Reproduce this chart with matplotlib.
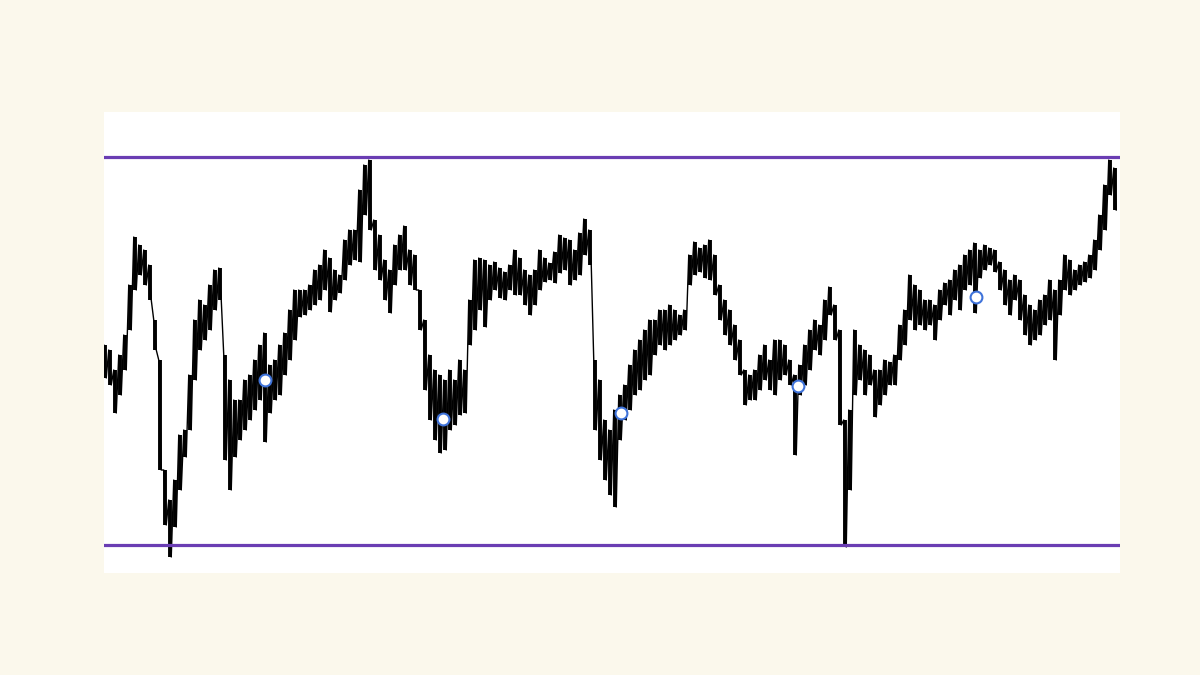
import numpy as np
import matplotlib
matplotlib.use("Agg")
import matplotlib.pyplot as plt

# bar highs / lows (price units above the support level), one bar per step
highs = [200, 195, 175, 190, 210, 260, 308, 300, 295, 280, 225, 185, 75, 45, 65, 110, 115, 170, 225, 245,
         240, 260, 275, 277, 190, 165, 145, 145, 165, 170, 185, 200, 212, 180, 185, 200, 212, 235, 255, 255,
         255, 260, 275, 280, 295, 287, 275, 270, 305, 315, 315, 355, 380, 385, 325, 310, 285, 275, 300, 310,
         319, 295, 290, 255, 225, 190, 175, 170, 165, 175, 165, 185, 175, 245, 285, 287, 285, 280, 283, 277,
         273, 280, 295, 287, 275, 270, 275, 295, 287, 282, 293, 310, 307, 305, 295, 312, 326, 315, 185, 165,
         125, 115, 135, 150, 160, 180, 195, 205, 215, 225, 225, 235, 235, 240, 235, 230, 235, 290, 303, 297,
         300, 305, 290, 260, 245, 235, 220, 205, 175, 170, 175, 190, 200, 185, 205, 205, 200, 185, 170, 180,
         200, 215, 225, 220, 245, 258, 240, 215, 125, 135, 215, 200, 195, 190, 175, 175, 185, 183, 190, 220,
         235, 270, 260, 255, 245, 245, 240, 255, 262, 265, 275, 280, 290, 295, 302, 295, 300, 297, 295, 283,
         275, 265, 270, 265, 250, 240, 235, 245, 250, 265, 255, 265, 290, 285, 275, 280, 283, 290, 305, 330,
         360, 385, 377]
lows = [167, 160, 132, 150, 175, 215, 255, 270, 260, 245, 195, 75, 20, -12, 18, 55, 88, 115, 165, 195,
        205, 215, 235, 245, 85, 55, 88, 105, 115, 125, 135, 145, 103, 132, 145, 150, 170, 185, 205, 228,
        230, 235, 240, 245, 255, 233, 245, 252, 265, 280, 285, 283, 330, 315, 275, 265, 245, 232, 260, 275,
        275, 260, 255, 215, 155, 125, 105, 92, 95, 115, 120, 130, 132, 200, 215, 235, 218, 245, 255, 247,
        245, 255, 250, 250, 240, 230, 240, 255, 263, 265, 262, 272, 275, 260, 265, 270, 290, 280, 115, 85,
        65, 50, 38, 105, 125, 135, 150, 155, 165, 170, 190, 200, 195, 200, 205, 210, 215, 260, 270, 273,
        267, 265, 250, 225, 210, 200, 185, 170, 140, 145, 145, 155, 165, 155, 150, 165, 170, 160, 90, 150,
        160, 175, 195, 190, 205, 230, 205, 120, -2, 55, 150, 165, 150, 160, 128, 140, 150, 160, 160, 185,
        200, 225, 215, 220, 215, 220, 205, 225, 240, 230, 245, 235, 255, 260, 232, 267, 275, 280, 273, 255,
        240, 230, 245, 225, 210, 200, 205, 210, 220, 225, 185, 230, 255, 250, 255, 260, 263, 267, 275, 295,
        315, 350, 335]

support = 0
resistance = 388

# touch points marked along the swing
marker_bars = [32, 67.6, 103.2, 138.6, 174.2]
marker_values = [165, 126, 132, 159, 248]

bars = np.arange(len(highs))
highs = np.array(highs)
lows = np.array(lows)

fig = plt.figure(figsize=(12, 6.75), dpi=100, facecolor="#fbf8ec")
ax = fig.add_axes([104 / 1200, 102 / 675, 1016 / 1200, 461 / 675])
ax.set_facecolor("white")

ax.axhline(resistance, color="#6a3db3", linewidth=2.3, zorder=4)
ax.axhline(support, color="#6a3db3", linewidth=2.3, zorder=4)

ax.vlines(bars, lows, highs, color="black", linewidth=2.8, zorder=2)
zig_x = np.ravel(np.column_stack([bars - 0.25, bars + 0.25]))
zig_y = np.ravel(np.column_stack([highs, lows]))
ax.plot(zig_x, zig_y, color="black", linewidth=1.0, zorder=2)

ax.plot(marker_bars, marker_values, linestyle="none", marker="o", markersize=8.5,
        markerfacecolor="white", markeredgecolor="#3f73da", markeredgewidth=1.5, zorder=5)

ax.set_xlim(-0.2, len(highs) + 0.0)
ax.set_ylim(-28, 433)
ax.set_xticks([])
ax.set_yticks([])
for s in ax.spines.values():
    s.set_visible(False)

fig.savefig("out.png", dpi=100, facecolor=fig.get_facecolor())
